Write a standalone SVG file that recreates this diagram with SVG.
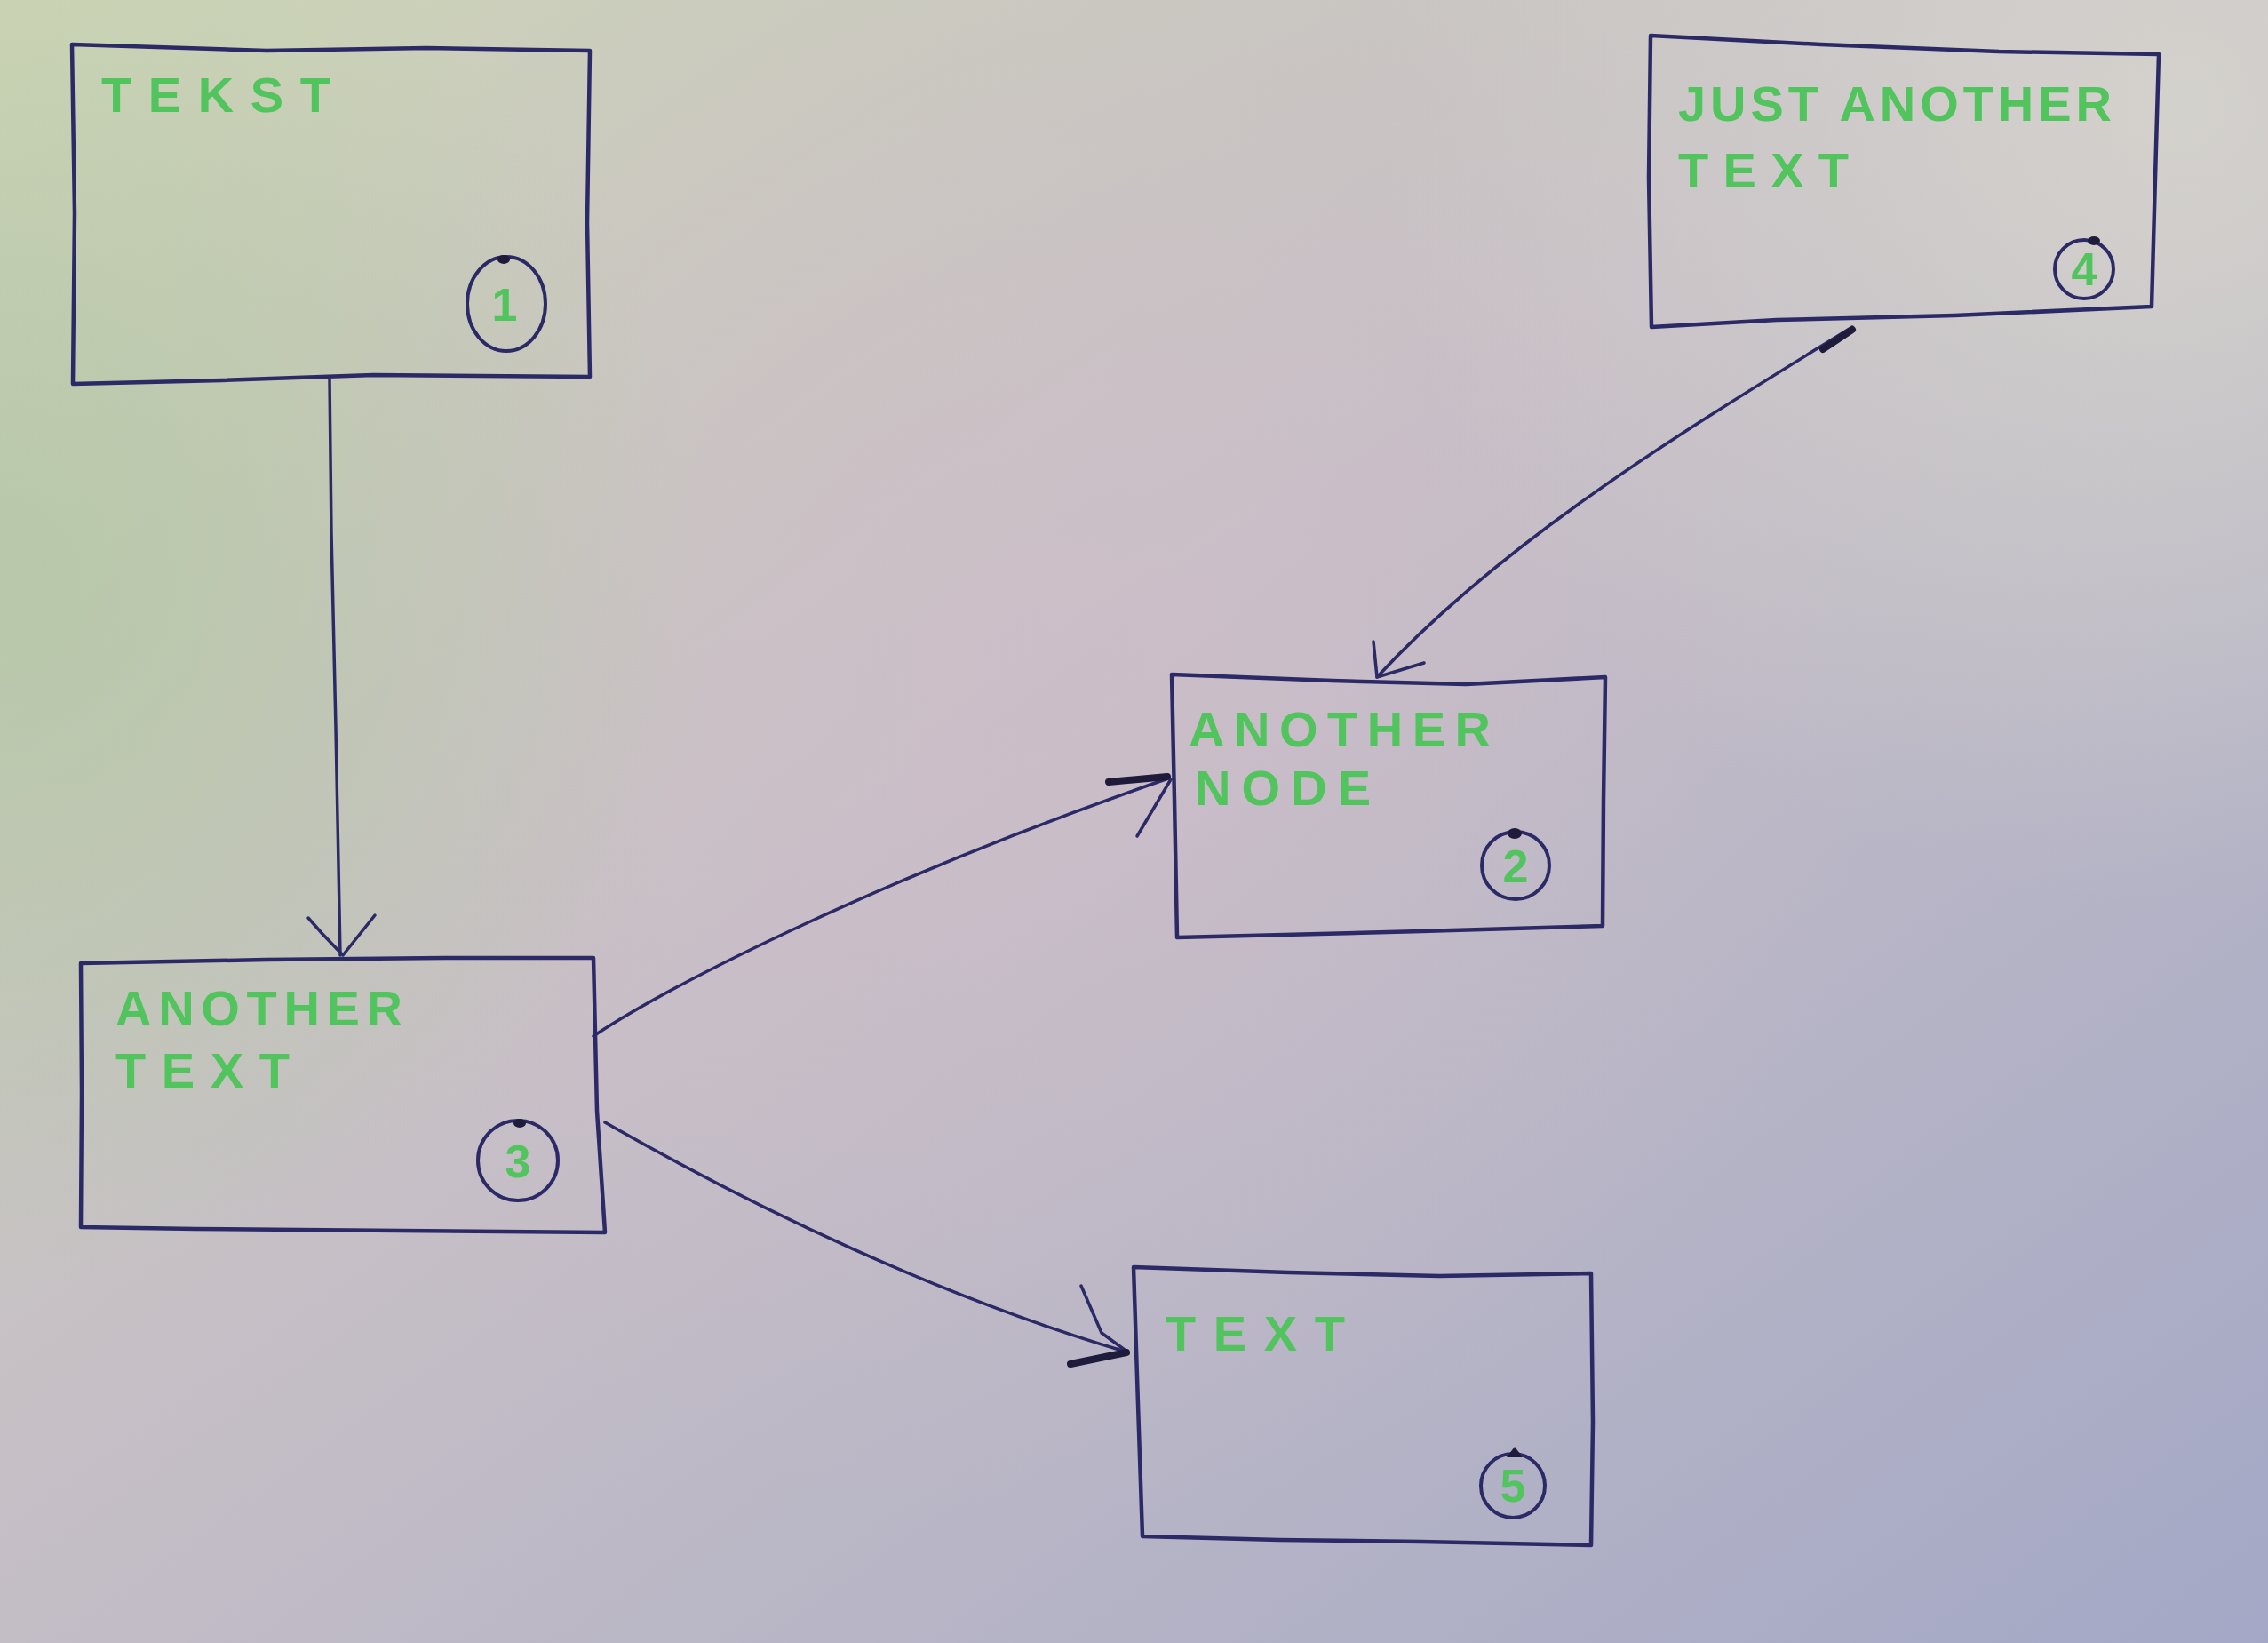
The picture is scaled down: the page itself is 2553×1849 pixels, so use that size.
<svg xmlns="http://www.w3.org/2000/svg" width="2553" height="1849" viewBox="0 0 2553 1849">
<defs>
<linearGradient id="bg" x1="0" y1="0" x2="1" y2="1">
<stop offset="0" stop-color="#cdd6b6"/>
<stop offset="0.45" stop-color="#c6bfc6"/>
<stop offset="1" stop-color="#a4a8c6"/>
</linearGradient>
<radialGradient id="pink" cx="1150" cy="720" r="1000" gradientUnits="userSpaceOnUse">
<stop offset="0" stop-color="#d0bcca" stop-opacity="0.55"/>
<stop offset="1" stop-color="#d0bcca" stop-opacity="0"/>
</radialGradient>
<radialGradient id="gray" cx="2450" cy="120" r="900" gradientUnits="userSpaceOnUse">
<stop offset="0" stop-color="#d6d4cd" stop-opacity="0.9"/>
<stop offset="1" stop-color="#d6d4cd" stop-opacity="0"/>
</radialGradient>
<radialGradient id="green" cx="0" cy="650" r="800" gradientUnits="userSpaceOnUse">
<stop offset="0" stop-color="#b3c6a4" stop-opacity="0.8"/>
<stop offset="1" stop-color="#b3c6a4" stop-opacity="0"/>
</radialGradient>
<style>
.box{fill:none;stroke:#2c2a66;stroke-width:4.5;stroke-linejoin:round;stroke-linecap:round}
.ring{fill:none;stroke:#2c2a66;stroke-width:4}
.dot{fill:#1e1c3a}
.lbl{font-family:"Liberation Sans",Arial,sans-serif;font-weight:bold;font-size:56px;fill:#52c45e}
.num{font-family:"Liberation Sans",Arial,sans-serif;font-weight:bold;font-size:52px;fill:#52c45e;text-anchor:middle}
.edge{fill:none;stroke:#2c2a66;stroke-width:3.5;stroke-linejoin:round;stroke-linecap:round}
.blob{fill:none;stroke:#1e1c3a;stroke-width:8;stroke-linecap:round}
</style>
</defs>
<rect width="2553" height="1849" fill="url(#bg)"/>
<rect width="2553" height="1849" fill="url(#pink)"/>
<rect width="2553" height="1849" fill="url(#gray)"/>
<rect width="2553" height="1849" fill="url(#green)"/>

<g id="connectors">
<g id="e1-3">
<path class="edge" d="M371,427 L373,600 L378,820 L383,1075"/>
<path class="edge" d="M347,1033 L362,1050 L386,1075 L422,1030"/>
</g>
<g id="e4-2">
<path class="edge" d="M2085,368 C1920,470 1700,600 1550,762"/>
<path class="blob" d="M2052,393 L2085,371"/>
<path class="edge" d="M1546,722 L1550,762 L1603,746"/>
</g>
<g id="e3-2">
<path class="edge" d="M668,1166 C760,1105 1000,985 1315,876"/>
<path class="blob" d="M1248,880 L1314,874"/>
<path class="edge" d="M1318,877 L1280,941"/>
</g>
<g id="e3-5">
<path class="edge" d="M681,1263 C850,1360 1060,1460 1270,1522"/>
<path class="edge" d="M1217,1447 L1240,1500 L1270,1522"/>
<path class="blob" d="M1205,1535 L1268,1522"/>
</g>
</g>

<g id="node1">
<path class="box" d="M81,50 L300,57 L480,54 L664,57 L661,250 L664,424 L420,422 L250,428 L82,432 L84,240 Z"/>
<text class="lbl" x="114" y="126" textLength="258" lengthAdjust="spacing">TEKST</text>
<ellipse class="ring" cx="570" cy="342" rx="44" ry="53"/>
<ellipse class="dot" cx="567" cy="292" rx="7" ry="5"/>
<text class="num" x="568" y="361">1</text>
</g>

<g id="node4">
<path class="box" d="M1858,40 L2050,50 L2250,58 L2430,61 L2426,200 L2422,345 L2200,355 L2000,360 L1859,368 L1856,200 Z"/>
<text class="lbl" x="1889" y="136" textLength="488" lengthAdjust="spacing">JUST ANOTHER</text>
<text class="lbl" x="1889" y="211" textLength="192" lengthAdjust="spacing">TEXT</text>
<circle class="ring" cx="2346" cy="303" r="33"/>
<ellipse class="dot" cx="2357" cy="271" rx="7" ry="5"/>
<text class="num" x="2346" y="321">4</text>
</g>

<g id="node2">
<path class="box" d="M1319,759 L1500,766 L1650,770 L1807,762 L1805,900 L1804,1042 L1600,1048 L1325,1055 L1322,900 Z"/>
<text class="lbl" x="1338" y="840" textLength="340" lengthAdjust="spacing">ANOTHER</text>
<text class="lbl" x="1345" y="906" textLength="198" lengthAdjust="spacing">NODE</text>
<circle class="ring" cx="1706" cy="974" r="38"/>
<ellipse class="dot" cx="1705" cy="938" rx="8" ry="6"/>
<text class="num" x="1706" y="993">2</text>
</g>

<g id="node3">
<path class="box" d="M91,1084 L300,1080 L500,1078 L668,1078 L672,1250 L681,1387 L450,1385 L220,1383 L91,1381 L92,1230 Z"/>
<text class="lbl" x="130" y="1154" textLength="323" lengthAdjust="spacing">ANOTHER</text>
<text class="lbl" x="130" y="1224" textLength="196" lengthAdjust="spacing">TEXT</text>
<circle class="ring" cx="583" cy="1306" r="45"/>
<ellipse class="dot" cx="585" cy="1264" rx="7" ry="5"/>
<text class="num" x="583" y="1325">3</text>
</g>

<g id="node5">
<path class="box" d="M1276,1426 L1450,1432 L1620,1436 L1791,1433 L1793,1600 L1791,1739 L1600,1735 L1440,1733 L1286,1729 L1281,1580 Z"/>
<text class="lbl" x="1312" y="1520" textLength="202" lengthAdjust="spacing">TEXT</text>
<circle class="ring" cx="1703" cy="1672" r="36"/>
<path class="dot" d="M1696,1640 L1705,1628 L1714,1640 Z"/>
<text class="num" x="1703" y="1690">5</text>
</g>
</svg>
